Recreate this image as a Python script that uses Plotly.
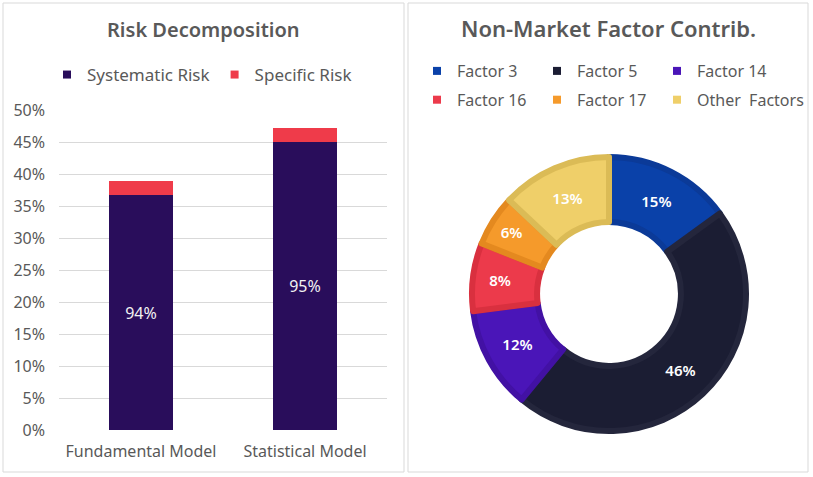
import plotly.graph_objects as go

# ---- data ----
models = ["Fundamental Model", "Statistical Model"]
systematic = [0.367, 0.450]
specific = [0.022, 0.022]
risk_names = ["Systematic Risk", "Specific Risk"]

factors = ["Factor 3", "Factor 5", "Factor 14", "Factor 16", "Factor 17", "Other  Factors"]
factor_share = [15, 46, 12, 8, 6, 13]

y_ticks = [0, 0.05, 0.10, 0.15, 0.20, 0.25, 0.30, 0.35, 0.40, 0.45, 0.50]

# ---- style ----
W, H = 813, 477
FONT = "Noto Sans"
GREY = "#595959"
bar_colors = ["#290d5b", "#ef3b4a"]
pie_fill = ["#0a41a9", "#1b1d33", "#4a15b8", "#ec3a4b", "#f59a2b", "#efcf69"]
pie_edge = ["#0b3a98", "#24263c", "#4211a4", "#d9303f", "#e4891f", "#dbbb56"]

def px(x):
    return x / W

def py(y):
    return 1 - y / H

share_text = [f"{round(s / (s + p) * 100)}%" for s, p in zip(systematic, specific)]

fig = go.Figure()

fig.add_trace(go.Bar(
    x=models, y=systematic, name=risk_names[0], marker_color=bar_colors[0],
    marker_line_width=0, text=share_text, textposition="inside",
    insidetextanchor="middle", textfont=dict(family=FONT, size=16, color="#f2f2f2"),
    showlegend=False, width=0.39,
))
fig.add_trace(go.Bar(
    x=models, y=specific, name=risk_names[1], marker_color=bar_colors[1],
    marker_line_width=0, showlegend=False, width=0.39,
))

fig.add_trace(go.Pie(
    labels=factors, values=factor_share, sort=False, direction="clockwise",
    rotation=0, hole=0.525,
    marker=dict(colors=pie_fill, line=dict(color=pie_edge, width=6)),
    texttemplate="%{percent:.0%}", textposition="inside",
    insidetextorientation="horizontal",
    textfont=dict(family=FONT, size=15, color="white", weight=600),
    domain=dict(x=[px(472), px(746)], y=[py(431), py(157)]),
    showlegend=False, hoverinfo="label+percent",
))

# legend entries (dummy traces on a hidden axis)
for n, c in zip(risk_names, bar_colors):
    fig.add_trace(go.Scatter(x=[None], y=[None], mode="markers", name=n,
                             marker=dict(symbol="square", size=8, color=c),
                             xaxis="x3", yaxis="y3", legend="legend"))
# pie legend laid out as three columns of two rows
for i, (n, c) in enumerate(zip(factors, pie_fill)):
    col = i % 3
    fig.add_trace(go.Scatter(x=[None], y=[None], mode="markers", name=n,
                             marker=dict(symbol="square", size=8, color=c),
                             xaxis="x3", yaxis="y3", legendgroup=f"g{i}",
                             legend=["legend2", "legend3", "legend4"][col]))

legend_common = dict(xanchor="left", bgcolor="rgba(0,0,0,0)", borderwidth=0,
                     itemwidth=30)

col_legend = dict(orientation="v", yanchor="top", tracegroupgap=5, traceorder="grouped",
                  font=dict(family=FONT, size=16, color=GREY), **legend_common)

fig.update_layout(
    width=W, height=H, margin=dict(l=0, r=0, t=0, b=0, autoexpand=False),
    paper_bgcolor="white", plot_bgcolor="white",
    barmode="stack",
    font=dict(family=FONT, color=GREY),
    xaxis=dict(domain=[px(59), px(387)], showgrid=False, showline=False,
               ticks="", tickfont=dict(family=FONT, size=16, color=GREY),
               ticklabelstandoff=10, fixedrange=True, automargin=False),
    yaxis=dict(domain=[py(430), py(110)], range=[0, 0.5], tickvals=y_ticks,
               tickformat=".0%", showgrid=True, gridcolor="#d9d9d9", gridwidth=1,
               zeroline=False, showline=False, ticks="", ticklabelstandoff=13,
               tickfont=dict(family=FONT, size=16, color=GREY), fixedrange=True,
               automargin=False),
    xaxis3=dict(visible=False, domain=[0, 0.01]),
    yaxis3=dict(visible=False, domain=[0, 0.01]),
    legend=dict(x=px(47), y=py(75), orientation="h", yanchor="middle", entrywidth=0,
                tracegroupgap=0, traceorder="normal",
                font=dict(family=FONT, size=17, color=GREY), **legend_common),
    legend2=dict(x=px(417), y=py(54), **col_legend),
    legend3=dict(x=px(537), y=py(54), **col_legend),
    legend4=dict(x=px(657), y=py(54), **col_legend),
    annotations=[
        dict(text="Risk Decomposition", x=px(203), y=py(30), xref="paper", yref="paper",
             xanchor="center", yanchor="middle", showarrow=False,
             font=dict(family=FONT, size=20, color=GREY, weight=600)),
        dict(text="Non-Market Factor Contrib.", x=px(608), y=py(28), xref="paper", yref="paper",
             xanchor="center", yanchor="middle", showarrow=False,
             font=dict(family=FONT, size=22, color=GREY, weight=600)),
    ],
    shapes=[
        dict(type="rect", xref="paper", yref="paper", x0=px(3), x1=px(404), y0=py(472), y1=py(3),
             line=dict(color="#d9d9d9", width=1), layer="below"),
        dict(type="rect", xref="paper", yref="paper", x0=px(408), x1=px(808), y0=py(472), y1=py(3),
             line=dict(color="#d9d9d9", width=1), layer="below"),
    ],
)

fig.write_html("out.html", config={"displayModeBar": False},
               post_script="document.body.style.margin='0px';")
